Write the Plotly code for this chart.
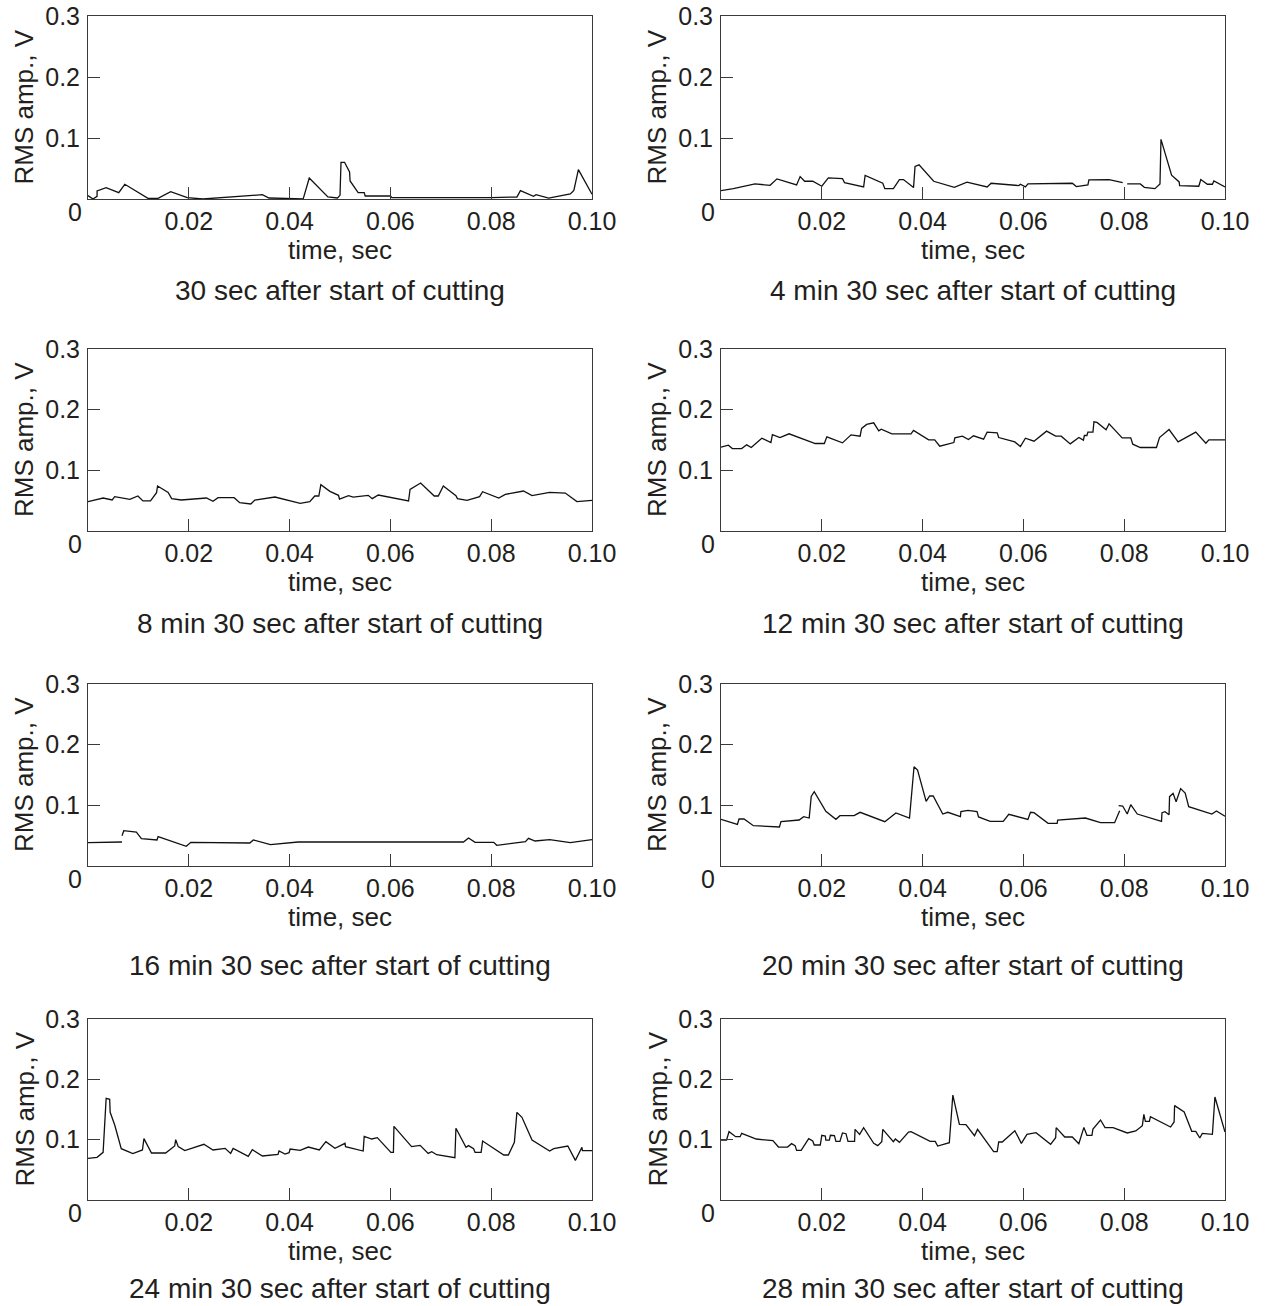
import plotly.graph_objects as go

# ---------------- data (time in s, RMS amplitude in V) ----------------
t_0030 = [0, 0.001, 0.0018, 0.0018, 0.0036, 0.0061, 0.0073, 0.0119, 0.0139, 0.0164, 0.0197, 0.0228,
          0.0346, 0.0359, 0.0427, 0.0439, 0.0476, 0.0495, 0.05, 0.0502, 0.0509, 0.0519, 0.052, 0.0536,
          0.0548, 0.055, 0.06, 0.0603, 0.08, 0.0851, 0.0858, 0.0884, 0.0889, 0.0914, 0.0957, 0.0964,
          0.0973, 0.1]
v_0030 = [0.0055, 0.0, 0.0044, 0.0131, 0.0186, 0.0104, 0.0241, 0.0011, 0.0011, 0.012, 0.0022, 0.0,
          0.0071, 0.0016, 0.0003, 0.0345, 0.0033, 0.0016, 0.006, 0.0602, 0.0602, 0.0443, 0.0296, 0.0104,
          0.0104, 0.0049, 0.0049, 0.0022, 0.0022, 0.0033, 0.0137, 0.0044, 0.0071, 0.0016, 0.0082, 0.0142,
          0.0482, 0.0077]

t_0430 = [0, 0.00245, 0.00675, 0.00974, 0.0111, 0.015, 0.0157, 0.0166, 0.0182, 0.02, 0.0213, 0.0241,
          0.0245, 0.0283, 0.0286, 0.0321, 0.0325, 0.0342, 0.0354, 0.0362, 0.0382, 0.0385, 0.0393, 0.0422,
          0.0463, 0.0488, 0.0528, 0.0536, 0.0591, 0.0594, 0.0604, 0.0609, 0.0697, 0.0705, 0.0728, 0.073,
          0.077, 0.0797, None, 0.0806, 0.0832, 0.084, 0.0861, 0.0871, 0.0873, 0.0894, 0.0909, 0.091,
          0.0948, 0.0952, 0.0965, 0.0975, 0.0978, 0.1]
v_0430 = [0.0137, 0.017, 0.0247, 0.0225, 0.033, 0.0231, 0.0368, 0.0291, 0.0291, 0.0209, 0.0346, 0.0335,
          0.0269, 0.0198, 0.0385, 0.0258, 0.017, 0.017, 0.0319, 0.0319, 0.0187, 0.0533, 0.056, 0.0291,
          0.0192, 0.0275, 0.0198, 0.0258, 0.022, 0.0242, 0.0198, 0.0247, 0.0258, 0.0203, 0.0231, 0.0313,
          0.0319, 0.0269, None, 0.0247, 0.0247, 0.0192, 0.017, 0.0247, 0.0978, 0.039, 0.028, 0.022,
          0.0209, 0.0319, 0.0242, 0.0242, 0.0297, 0.0198]

t_0830 = [0, 0.003, 0.0048, 0.0053, 0.0083, 0.0099, 0.0109, 0.0124, 0.0136, 0.0138, 0.0159, 0.0166,
          0.0185, 0.0235, 0.0248, 0.0258, 0.029, 0.0301, 0.0323, 0.0331, 0.0371, 0.0421, 0.044, 0.045,
          0.0458, 0.0462, 0.048, 0.0497, 0.0499, 0.0517, 0.0526, 0.0556, 0.0564, 0.0576, 0.0636, 0.0639,
          0.066, 0.0687, 0.0695, 0.0705, 0.073, 0.0733, 0.0752, 0.0777, 0.0783, 0.0815, 0.0828, 0.0864,
          0.0881, 0.0916, 0.0947, 0.097, 0.1]
v_0830 = [0.0484, 0.0544, 0.0511, 0.0566, 0.0522, 0.0577, 0.0495, 0.0495, 0.0632, 0.0742, 0.0637, 0.0533,
          0.0511, 0.0544, 0.0489, 0.0549, 0.0549, 0.0467, 0.0445, 0.0511, 0.056, 0.0456, 0.0484, 0.0577,
          0.0577, 0.0764, 0.0654, 0.0588, 0.0527, 0.0582, 0.056, 0.0588, 0.0533, 0.0593, 0.0495, 0.0687,
          0.0791, 0.0577, 0.0577, 0.0742, 0.0582, 0.0533, 0.0505, 0.0566, 0.0648, 0.0544, 0.0604, 0.0659,
          0.0582, 0.0637, 0.0626, 0.0484, 0.0505]

t_1230 = [0, 0.00146, 0.00225, 0.0041, 0.0051, 0.006, 0.0081, 0.0099, 0.0102, 0.0117, 0.0135, 0.0187,
          0.0205, 0.021, 0.0241, 0.0258, 0.0276, 0.0279, 0.0289, 0.0303, 0.0313, 0.0318, 0.0339, 0.0377,
          0.0382, 0.0412, 0.0424, 0.0434, 0.0462, 0.0464, 0.0479, 0.0491, 0.0501, 0.0521, 0.0528, 0.0548,
          0.0551, 0.0583, 0.0594, 0.0604, 0.0621, 0.0646, 0.0664, 0.0675, 0.0693, 0.071, 0.0719, 0.0721,
          0.0726, 0.0728, 0.0738, 0.074, 0.0746, 0.0764, 0.077, 0.0796, 0.0813, 0.0817, 0.0832, 0.0864,
          0.087, 0.0889, 0.0907, 0.0942, 0.0962, 0.0968, 0.1]
v_1230 = [0.1381, 0.1414, 0.1359, 0.1359, 0.142, 0.1376, 0.153, 0.1458, 0.159, 0.1541, 0.1602, 0.1442,
          0.1442, 0.1552, 0.1453, 0.1585, 0.1563, 0.169, 0.1756, 0.1783, 0.1651, 0.1679, 0.1602, 0.1602,
          0.1657, 0.1502, 0.1502, 0.1398, 0.1458, 0.1535, 0.1563, 0.1508, 0.1569, 0.1513, 0.1629, 0.1618,
          0.1541, 0.1469, 0.1392, 0.153, 0.148, 0.1646, 0.1563, 0.1563, 0.1436, 0.1541, 0.1497, 0.1574,
          0.1574, 0.1629, 0.1629, 0.18, 0.1789, 0.1668, 0.1767, 0.1535, 0.1535, 0.1431, 0.1376, 0.1376,
          0.1541, 0.1673, 0.1469, 0.1629, 0.1447, 0.1502, 0.1502]

t_1630 = [0, 0.00675, None, 0.00675, 0.0071, 0.0096, 0.0106, 0.0137, 0.0139, 0.0195, 0.0204, 0.0321,
          0.0328, 0.0362, 0.0417, 0.0745, 0.0755, 0.0768, 0.0805, 0.0811, 0.0868, 0.0874, 0.0887, 0.0916,
          0.0957, 0.1]
v_1630 = [0.0385, 0.0396, None, 0.05, 0.0582, 0.056, 0.0451, 0.0429, 0.0484, 0.0324, 0.039, 0.0379,
          0.0429, 0.0352, 0.0396, 0.0396, 0.0462, 0.039, 0.039, 0.0341, 0.0401, 0.0456, 0.0412, 0.0434,
          0.0385, 0.0434]

t_2030 = [0, 0.00325, 0.00358, 0.00457, 0.00642, 0.0116, 0.0119, 0.0155, 0.0164, 0.0175, 0.0179, 0.0185,
          0.0208, 0.0228, 0.0236, 0.0264, 0.0276, 0.0325, 0.0347, 0.0374, 0.0383, 0.039, 0.0407, 0.0414,
          0.0421, 0.044, 0.045, 0.0475, 0.0476, 0.049, 0.0508, 0.0511, 0.0534, 0.056, 0.0571, 0.0609,
          0.0614, 0.0621, 0.0649, 0.0667, 0.0668, 0.0723, 0.0753, 0.0781, 0.0791, None, 0.0789, 0.0797,
          0.0806, 0.0813, 0.0826, 0.0874, 0.0875, 0.0881, 0.0889, 0.089, 0.0897, 0.0903, 0.0912, 0.0921,
          0.0928, 0.0974, 0.0983, 0.1]
v_2030 = [0.0769, 0.0687, 0.0775, 0.0775, 0.0665, 0.0643, 0.0731, 0.0758, 0.0813, 0.0791, 0.1148, 0.1225,
          0.0901, 0.0769, 0.083, 0.083, 0.0885, 0.0731, 0.0874, 0.0791, 0.1637, 0.1582, 0.1066, 0.1154,
          0.1154, 0.0857, 0.0885, 0.0813, 0.0896, 0.0918, 0.0896, 0.0808, 0.0736, 0.0736, 0.0852, 0.0769,
          0.0885, 0.0879, 0.0703, 0.0703, 0.0758, 0.0791, 0.0714, 0.0714, 0.0912, None, 0.0995, 0.0989,
          0.0857, 0.1011, 0.0857, 0.0736, 0.0879, 0.0896, 0.0846, 0.1143, 0.1198, 0.106, 0.1275, 0.1203,
          0.0978, 0.0857, 0.0907, 0.0819]

t_2430 = [0, 0.0018, 0.003, 0.0036, 0.0043, 0.0044, 0.0053, 0.0066, 0.0089, 0.0108, 0.0111, 0.0126,
          0.0154, 0.0172, 0.0174, 0.0179, 0.0192, 0.023, 0.0248, 0.0272, 0.0283, 0.0288, 0.0318, 0.0326,
          0.0346, 0.0377, 0.0379, 0.0391, 0.0399, 0.0401, 0.0421, 0.0437, 0.0459, 0.0472, 0.049, 0.051,
          0.0511, 0.0546, 0.0548, 0.0563, 0.0574, 0.0601, 0.0606, 0.0607, 0.0642, 0.0659, 0.0675, 0.0682,
          0.0692, 0.0728, 0.073, 0.075, 0.0755, 0.0765, 0.0768, 0.078, 0.0783, 0.0825, 0.0834, 0.0846,
          0.0851, 0.0861, 0.0881, 0.0916, 0.0924, 0.0952, 0.0967, 0.0977, 0.098, 0.0981, 0.1]
v_2430 = [0.0691, 0.0707, 0.079, 0.1685, 0.1669, 0.1453, 0.1243, 0.0851, 0.0768, 0.0829, 0.1017, 0.0779,
          0.0779, 0.0895, 0.1, 0.0884, 0.0818, 0.0923, 0.0829, 0.0856, 0.0773, 0.0856, 0.0724, 0.0834,
          0.0729, 0.0757, 0.0812, 0.0762, 0.0785, 0.0845, 0.0823, 0.0878, 0.0829, 0.0967, 0.0856, 0.0939,
          0.0884, 0.0812, 0.1055, 0.1011, 0.1033, 0.079, 0.079, 0.1221, 0.0884, 0.0906, 0.0773, 0.0801,
          0.0751, 0.0702, 0.1188, 0.0873, 0.0901, 0.0851, 0.079, 0.079, 0.0978, 0.0746, 0.0746, 0.0956,
          0.1453, 0.137, 0.0994, 0.0812, 0.0851, 0.0895, 0.0657, 0.0829, 0.0873, 0.0818, 0.0818]

t_2830 = [0, 0.0011, 0.0016, 0.0029, 0.0038, 0.0041, 0.007, 0.0103, 0.0114, 0.0132, 0.014, 0.0147,
          0.015, 0.0159, 0.0174, 0.0182, 0.0185, 0.0197, 0.02, 0.0207, 0.0208, 0.0215, 0.0217, 0.0225,
          0.0228, 0.0236, 0.0241, 0.0248, 0.0252, 0.0265, 0.0266, 0.0275, 0.0283, 0.0303, 0.0311, 0.0319,
          0.0321, 0.0342, 0.0346, 0.0354, 0.0372, 0.0377, 0.0415, 0.0425, 0.043, 0.0453, 0.046, 0.0473,
          0.0486, 0.0503, 0.0509, 0.0541, 0.0548, 0.0551, 0.0558, 0.0583, 0.0596, 0.0607, 0.0625, 0.0654,
          0.0664, 0.0665, 0.0682, 0.0697, 0.071, 0.072, 0.0726, 0.0736, 0.0738, 0.0753, 0.0762, 0.0778,
          0.0806, 0.0823, 0.0836, 0.0839, 0.0842, 0.085, 0.0852, 0.0892, 0.0899, 0.09, 0.0919, 0.0934,
          0.0942, 0.095, 0.0955, 0.0975, 0.098, 0.1]
v_2830 = [0.0994, 0.0994, 0.1133, 0.105, 0.105, 0.1105, 0.1011, 0.0983, 0.0878, 0.0878, 0.0934, 0.0901,
          0.0823, 0.0823, 0.1017, 0.0978, 0.0912, 0.0912, 0.1072, 0.1061, 0.0994, 0.0994, 0.1072, 0.1066,
          0.0972, 0.0972, 0.1111, 0.1099, 0.0972, 0.0972, 0.1171, 0.1088, 0.1199, 0.0939, 0.0901, 0.0967,
          0.1171, 0.0967, 0.1011, 0.0956, 0.1127, 0.1133, 0.0972, 0.0972, 0.0895, 0.095, 0.174, 0.1254,
          0.1249, 0.1066, 0.1171, 0.0801, 0.0801, 0.0961, 0.0961, 0.1149, 0.0939, 0.1088, 0.1116, 0.0923,
          0.1033, 0.1199, 0.1044, 0.1044, 0.0934, 0.1204, 0.1072, 0.1072, 0.1177, 0.1326, 0.1199, 0.1199,
          0.1111, 0.1144, 0.1232, 0.142, 0.1304, 0.1304, 0.1381, 0.121, 0.1293, 0.1564, 0.1459, 0.1138,
          0.1138, 0.1028, 0.1105, 0.1088, 0.1707, 0.1127]

captions = ["30 sec after start of cutting", "4 min 30 sec after start of cutting",
            "8 min 30 sec after start of cutting", "12 min 30 sec after start of cutting",
            "16 min 30 sec after start of cutting", "20 min 30 sec after start of cutting",
            "24 min 30 sec after start of cutting", "28 min 30 sec after start of cutting"]
series = [(t_0030, v_0030), (t_0430, v_0430), (t_0830, v_0830), (t_1230, v_1230),
          (t_1630, v_1630), (t_2030, v_2030), (t_2430, v_2430), (t_2830, v_2830)]
x_ticks = [0.02, 0.04, 0.06, 0.08, 0.10]
x_ticktext = ["0.02", "0.04", "0.06", "0.08", "0.10"]
y_ticks = [0.1, 0.2, 0.3]
y_ticktext = ["0.1", "0.2", "0.3"]
x_title = "time, sec"
y_title = "RMS amp., V"

# ---------------- layout geometry (pixels, page coordinates) ----------------
W, H = 1274, 1306
col_px = [(88, 592), (721, 1225)]
row_px = [(16, 199), (349, 531), (684, 866), (1019, 1200)]
caption_y_px = [290, 624, 965, 1288]

FONT = "Liberation Sans, Arial, Helvetica, sans-serif"
INK = "#231f20"

fig = go.Figure()
layout = dict(
    template="none",
    width=W, height=H, autosize=False,
    margin=dict(l=0, r=0, t=0, b=0, pad=0, autoexpand=False),
    paper_bgcolor="white", plot_bgcolor="white",
    showlegend=False,
    font=dict(family=FONT, color=INK, size=25),
)
annotations = []

for i, ((tt, vv), cap) in enumerate(zip(series, captions)):
    r, c = divmod(i, 2)
    n = "" if i == 0 else str(i + 1)
    x0, x1 = col_px[c]
    y0, y1 = row_px[r]
    xd = [x0 / W, x1 / W]
    yd = [1 - y1 / H, 1 - y0 / H]
    fig.add_trace(go.Scatter(x=tt, y=vv, mode="lines", xaxis="x" + n, yaxis="y" + n,
                             line=dict(color="#111111", width=1.3), connectgaps=False,
                             hoverinfo="skip"))
    axcommon = dict(showline=True, mirror=True, linecolor="#3a3a3a", linewidth=1,
                    ticks="inside", ticklen=12, tickwidth=1, tickcolor="#3a3a3a",
                    showgrid=False, zeroline=False, automargin=False, ticklabeloverflow="allow",
                    tickfont=dict(family=FONT, size=25, color=INK))
    layout["xaxis" + n] = dict(axcommon, domain=xd, range=[0, 0.1], anchor="y" + n,
                               tickvals=x_ticks, ticktext=x_ticktext, ticklabelstandoff=0)
    layout["yaxis" + n] = dict(axcommon, domain=yd, range=[0, 0.3], anchor="x" + n,
                               tickvals=y_ticks, ticktext=y_ticktext, ticklabelstandoff=2)
    # origin label
    annotations.append(dict(x=0, y=0, xref="x" + n, yref="y" + n, text="0", showarrow=False,
                            xanchor="center", yanchor="middle", xshift=-13, yshift=-13,
                            font=dict(family=FONT, size=25, color=INK)))
    # y-axis title
    annotations.append(dict(x=0, y=0.5, xref=("x" + n) + " domain", yref=("y" + n) + " domain",
                            text=y_title, showarrow=False, textangle=-90,
                            xanchor="center", yanchor="middle", xshift=-64,
                            font=dict(family=FONT, size=26, color=INK)))
    # x-axis title
    annotations.append(dict(x=0.5, y=0, xref=("x" + n) + " domain", yref=("y" + n) + " domain",
                            text=x_title, showarrow=False, xanchor="center", yanchor="middle",
                            yshift=-51, font=dict(family=FONT, size=26, color=INK)))
    # caption
    annotations.append(dict(x=(x0 + x1) / 2 / W, y=1 - caption_y_px[r] / H,
                            xref="paper", yref="paper",
                            text=cap, showarrow=False, xanchor="center", yanchor="middle",
                            font=dict(family=FONT, size=28, color=INK)))

layout["annotations"] = annotations
fig.update_layout(**layout)
# remove the page's default body margin so the figure sits at the window's top-left corner
fig.write_html("out.html",
               config={"displayModeBar": False},
               post_script="document.body.style.margin='0px';document.body.style.overflow='hidden';")
